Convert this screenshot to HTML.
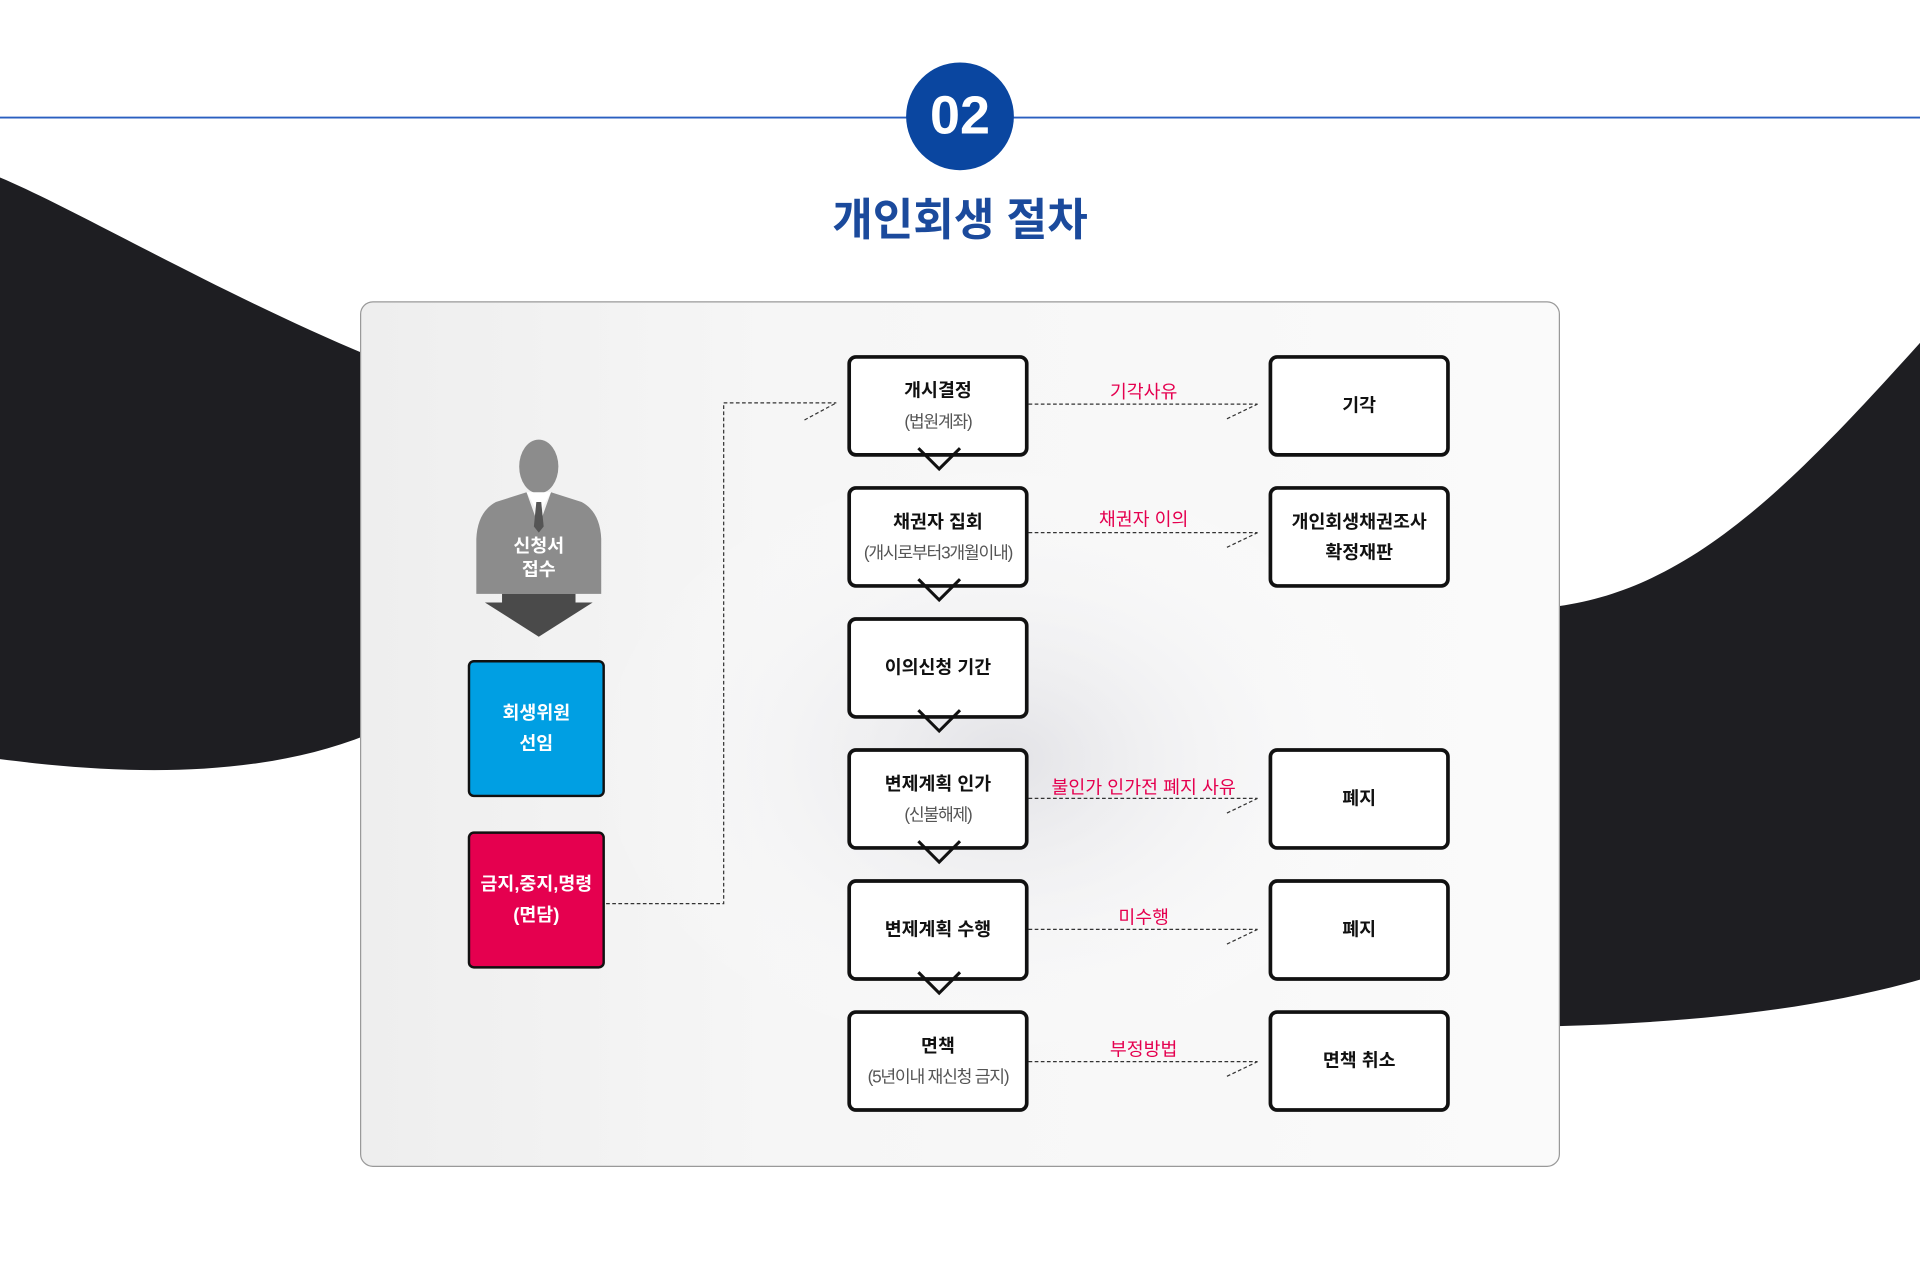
<!DOCTYPE html>
<html><head><meta charset="utf-8"><style>
html,body{margin:0;padding:0;background:#fff;}
body{width:1920px;height:1266px;overflow:hidden;position:relative;font-family:"Liberation Sans","Noto Sans CJK KR",sans-serif;}
#w{position:absolute;left:0;top:0;width:1568px;height:1034px;transform:scale(1.22449);transform-origin:0 0;}
.a{position:absolute;}
.box{position:absolute;width:142px;border:3px solid #111;border-radius:7px;background:#fff;display:flex;flex-direction:column;align-items:center;justify-content:center;font-size:15px;font-weight:bold;color:#111;text-align:center;line-height:25px;box-sizing:content-box;}
.box small{font-weight:normal;color:#555;font-size:14px;letter-spacing:-1px;}
.lbl{position:absolute;color:#e5004f;font-size:15px;text-align:center;width:200px;}
</style></head><body><div id="w">
<svg class="a" style="left:0;top:0" width="1568" height="1034">
<defs>
<radialGradient id="hs" cx="0.5" cy="0.5" r="0.5"><stop offset="0" stop-color="#e2e2e6"/><stop offset="1" stop-color="#fff" stop-opacity="0"/></radialGradient>
<linearGradient id="pg" x1="0" x2="1"><stop offset="0" stop-color="#eeeeee"/><stop offset="0.35" stop-color="#f6f6f6"/><stop offset="1" stop-color="#fafafa"/></linearGradient>
</defs>
<path d="M0,145 C60,170 180,240 300,290 L300,600 C200,640 80,630 0,620 Z" fill="#1e1e22"/>
<path d="M1273,495 C1380,480 1460,400 1568,280 L1568,800 C1480,825 1380,835 1273,838 Z" fill="#1e1e22"/>
<rect x="294.5" y="246.5" width="979" height="706" rx="10" fill="url(#pg)" stroke="#999"/>
<ellipse cx="820" cy="620" rx="340" ry="250" fill="url(#hs)"/>
<line x1="0" y1="96" x2="1568" y2="96" stroke="#2a5fc0" stroke-width="1.5"/>
<circle cx="784" cy="95" r="44" fill="#0a46a0"/>
<!-- person -->
<g fill="#8c8c8c">
<ellipse cx="440" cy="381" rx="16" ry="22"/>
<path d="M405 410 L430 402 L440 430 L450 402 L475 410 Q490 418 491 440 L491 485 L389 485 L389 440 Q390 418 405 410Z"/>
</g>
<path d="M430 402 L440 420 L450 402 Z" fill="#fff"/>
<path d="M438 410 h4 l2 20 -4 5 -4 -5z" fill="#555"/>
<polygon points="410,485 470,485 470,492 484,492 440,520 396,492 410,492" fill="#4a4a4a"/>
<g stroke="#333" stroke-dasharray="3,2" fill="none" stroke-width="1">
<polyline points="495,738 591,738 591,329 683,329"/>
<line x1="657" y1="343" x2="683" y2="329"/>
<line x1="840" y1="330" x2="1027" y2="330"/><line x1="1002" y1="342" x2="1027" y2="330"/>
<line x1="840" y1="435" x2="1027" y2="435"/><line x1="1002" y1="447" x2="1027" y2="435"/>
<line x1="840" y1="652" x2="1027" y2="652"/><line x1="1002" y1="664" x2="1027" y2="652"/>
<line x1="840" y1="759" x2="1027" y2="759"/><line x1="1002" y1="771" x2="1027" y2="759"/>
<line x1="840" y1="867" x2="1027" y2="867"/><line x1="1002" y1="879" x2="1027" y2="867"/>
</g>
</svg>
<div class="a" style="left:740px;top:68px;width:88px;text-align:center;color:#fff;font-size:44px;font-weight:bold;line-height:54px;">02</div>
<div class="a" style="left:584px;top:154px;width:400px;text-align:center;color:#1b4a9c;font-size:36px;font-weight:bold;line-height:52px;">개인회생 절차</div>
<div class="a" style="left:390px;top:437px;width:100px;text-align:center;color:#fff;font-size:15px;font-weight:bold;line-height:19px;">신청서<br>접수</div>
<div class="a" style="left:382px;top:539px;width:108px;height:108px;border:2.5px solid #111;border-radius:5px;background:#009fe3;color:#fff;font-weight:bold;font-size:15px;display:flex;align-items:center;justify-content:center;text-align:center;line-height:25px;">회생위원<br>선임</div>
<div class="a" style="left:382px;top:679px;width:108px;height:108px;border:2.5px solid #111;border-radius:5px;background:#e5004f;color:#fff;font-weight:bold;font-size:15px;display:flex;align-items:center;justify-content:center;text-align:center;line-height:25px;">금지,중지,명령<br>(면담)</div>

<div class="box" style="left:692px;top:290px;height:77px;">개시결정<small>(법원계좌)</small></div>
<div class="box" style="left:692px;top:397px;height:77px;">채권자 집회<small>(개시로부터3개월이내)</small></div>
<div class="box" style="left:692px;top:504px;height:77px;">이의신청 기간</div>
<div class="box" style="left:692px;top:611px;height:77px;">변제계획 인가<small>(신불해제)</small></div>
<div class="box" style="left:692px;top:718px;height:77px;">변제계획 수행</div>
<div class="box" style="left:692px;top:825px;height:77px;">면책<small>(5년이내 재신청 금지)</small></div>

<svg class="a" style="left:0;top:0" width="1568" height="1034"><g stroke="#111" stroke-width="2.5" fill="none">
<polyline points="750,366 767,383 784,366"/><polyline points="750,473 767,490 784,473"/><polyline points="750,580 767,597 784,580"/><polyline points="750,687 767,704 784,687"/><polyline points="750,794 767,811 784,794"/>
</g></svg>

<div class="box" style="left:1036px;top:290px;height:77px;">기각</div>
<div class="box" style="left:1036px;top:397px;height:77px;">개인회생채권조사<br>확정재판</div>
<div class="box" style="left:1036px;top:611px;height:77px;">폐지</div>
<div class="box" style="left:1036px;top:718px;height:77px;">폐지</div>
<div class="box" style="left:1036px;top:825px;height:77px;">면책 취소</div>

<div class="lbl" style="left:834px;top:309px;">기각사유</div>
<div class="lbl" style="left:834px;top:413px;">채권자 이의</div>
<div class="lbl" style="left:834px;top:632px;">불인가 인가전 폐지 사유</div>
<div class="lbl" style="left:834px;top:738px;">미수행</div>
<div class="lbl" style="left:834px;top:846px;">부정방법</div>
</div></body></html>
